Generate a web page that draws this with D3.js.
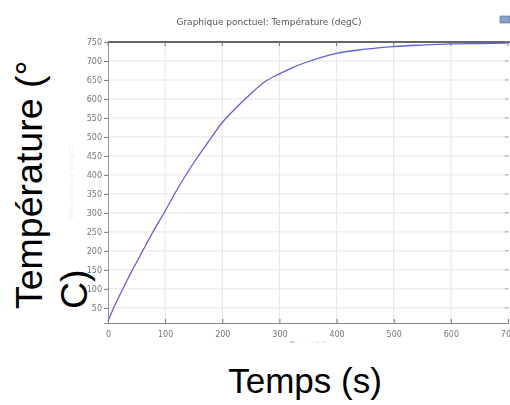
<!DOCTYPE html>
<html>
<head>
<meta charset="utf-8">
<script src="https://cdn.jsdelivr.net/npm/d3@7"></script>
<style>
  html, body { margin: 0; padding: 0; background: #fff; }
  svg { display: block; }
</style>
</head>
<body>
<svg id="chart" width="510" height="405"></svg>
<script>
// Temperature history of the probe point (time in s, temperature in degC)
const times = [0, 10, 20, 30, 40, 50, 60, 75, 100, 125, 150, 175, 200, 225, 250, 275, 300, 325, 350, 375, 400, 450, 500, 550, 600, 650, 700];
const temps = [15, 50, 82, 112, 142, 170, 198, 240, 305, 372, 432, 486, 538, 578, 614, 646, 666, 684, 698, 710, 720, 731, 738, 742, 745, 746, 747];
const xTicks = [0, 100, 200, 300, 400, 500, 600, 700];
const yTicks = [50, 100, 150, 200, 250, 300, 350, 400, 450, 500, 550, 600, 650, 700, 750];
const plotTitle = "Graphique ponctuel: Température (degC)";
const xTitle = "Temps (s)";
const yTitleLines = ["Température (°", "C)"];

const svg = d3.select("#chart");
const W = 510, H = 405;

const x = d3.scaleLinear().domain([0, 700]).range([108, 508]);
const y = d3.scaleLinear().domain([10, 750]).range([323, 42]);

const defs = svg.append("defs");
defs.append("filter").attr("id", "soft")
  .attr("x", "-5%").attr("y", "-5%").attr("width", "110%").attr("height", "110%")
  .append("feGaussianBlur").attr("stdDeviation", 0.45);
defs.append("clipPath").attr("id", "shot")
  .append("rect").attr("x", 0).attr("y", 0).attr("width", W).attr("height", 343);

// Embedded plot (soft, as rendered by the solver export)
const shot = svg.append("g").attr("clip-path", "url(#shot)")
  .append("g").attr("filter", "url(#soft)");

shot.append("text")
  .attr("x", 269).attr("y", 25)
  .attr("text-anchor", "middle")
  .attr("font-family", "DejaVu Sans, sans-serif")
  .attr("font-size", 9)
  .attr("fill", "#555")
  .text(plotTitle);

// small toolbar icon at the corner
shot.append("rect").attr("x", 500).attr("y", 16).attr("width", 10).attr("height", 7)
  .attr("fill", "#8aa0c8").attr("stroke", "#5a6f99").attr("stroke-width", 0.6);

// grid
shot.append("g").selectAll("line").data(xTicks.filter(d => d > 0 && d < 700)).join("line")
  .attr("x1", d => x(d)).attr("x2", d => x(d))
  .attr("y1", y(750)).attr("y2", y(10))
  .attr("stroke", "#e6e6e6").attr("stroke-width", 1);
shot.append("g").selectAll("line").data(yTicks.filter(d => d < 750)).join("line")
  .attr("x1", x(0)).attr("x2", W)
  .attr("y1", d => y(d)).attr("y2", d => y(d))
  .attr("stroke", "#e6e6e6").attr("stroke-width", 1);

// axes
const yAxis = d3.axisLeft(y).tickValues(yTicks).tickSize(4).tickPadding(2);
const gy = shot.append("g").attr("transform", `translate(${x(0)},0)`).call(yAxis);
gy.select(".domain").attr("stroke", "#999");
gy.selectAll(".tick line").attr("stroke", "#777");
gy.selectAll(".tick text").attr("fill", "#777")
  .attr("font-family", "DejaVu Sans, sans-serif").attr("font-size", 8);

const xAxis = d3.axisBottom(x).tickValues(xTicks).tickSize(-4).tickPadding(8);
const gx = shot.append("g").attr("transform", `translate(0,${y(10)})`).call(xAxis);
gx.select(".domain").attr("stroke", "#888");
gx.selectAll(".tick line").attr("stroke", "#777");
gx.selectAll(".tick text").attr("fill", "#777")
  .attr("font-family", "DejaVu Sans, sans-serif").attr("font-size", 8);

// top frame with inward ticks
shot.append("line").attr("x1", x(0)).attr("x2", W).attr("y1", y(750)).attr("y2", y(750))
  .attr("stroke", "#666").attr("stroke-width", 2);
shot.append("g").selectAll("line").data(xTicks).join("line")
  .attr("x1", d => x(d)).attr("x2", d => x(d))
  .attr("y1", y(750)).attr("y2", y(750) + 4)
  .attr("stroke", "#777");
// right-side inward ticks
shot.append("g").selectAll("line").data(yTicks).join("line")
  .attr("x1", x(700) - 3).attr("x2", x(700))
  .attr("y1", d => y(d)).attr("y2", d => y(d))
  .attr("stroke", "#999");

// small axis captions of the export
shot.append("text")
  .attr("x", 308).attr("y", 347)
  .attr("text-anchor", "middle")
  .attr("font-family", "DejaVu Sans, sans-serif").attr("font-size", 7.5)
  .attr("fill", "#999")
  .text(xTitle);
shot.append("text")
  .attr("transform", `translate(74,${(y(750) + y(10)) / 2}) rotate(-90)`)
  .attr("text-anchor", "middle")
  .attr("font-family", "DejaVu Sans, sans-serif").attr("font-size", 7.5)
  .attr("fill", "#ececec")
  .text("Température (degC)");

// temperature curve
const pts = times.map((t, i) => [t, temps[i]]);
shot.append("path")
  .datum(pts)
  .attr("fill", "none")
  .attr("stroke", "#6262d8")
  .attr("stroke-width", 1.3)
  .attr("d", d3.line().x(d => x(d[0])).y(d => y(d[1])).curve(d3.curveMonotoneX));

// Large axis titles
svg.append("text")
  .attr("x", 305).attr("y", 393)
  .attr("text-anchor", "middle")
  .attr("font-family", "Liberation Sans, Arial, sans-serif")
  .attr("font-size", 35)
  .attr("fill", "#000")
  .text(xTitle);

const yt = svg.append("text")
  .attr("transform", "translate(42,309) rotate(-90)")
  .attr("text-anchor", "start")
  .attr("font-family", "Liberation Sans, Arial, sans-serif")
  .attr("font-size", 37.5)
  .attr("fill", "#000");
yt.selectAll("tspan").data(yTitleLines).join("tspan")
  .attr("x", 0)
  .attr("dy", (d, i) => i === 0 ? 0 : "1.2em")
  .text(d => d);
</script>
</body>
</html>
